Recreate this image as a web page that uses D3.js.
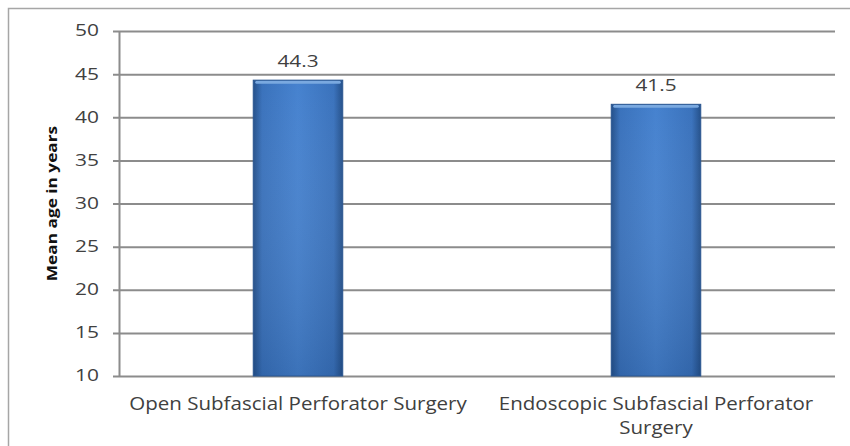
<!DOCTYPE html>
<html>
<head>
<meta charset="utf-8">
<script src="https://cdn.jsdelivr.net/npm/d3@7"></script>
<style>
  html, body { margin: 0; padding: 0; background: #fff; }
  svg { display: block; }
  text { font-family: "Open Sans", "DejaVu Sans", sans-serif; fill: #404040; }
</style>
</head>
<body>
<svg id="chart" width="850" height="446"></svg>
<script>
// Mean age per surgical approach
const categories = [
  ["Open Subfascial Perforator Surgery"],
  ["Endoscopic Subfascial Perforator", "Surgery"]
];
const meanAge = [44.3, 41.5];
const yTicks = [10, 15, 20, 25, 30, 35, 40, 45, 50];
const yTitle = "Mean age in years";

const svg = d3.select("#chart");
const W = 850, H = 446;
const plot = { left: 119, right: 835, top: 31, bottom: 376 };

// outer chart frame
svg.append("rect")
  .attr("x", 8.5).attr("y", 8.5)
  .attr("width", W + 20).attr("height", H + 20)
  .attr("fill", "none").attr("stroke", "#a6a6a6").attr("stroke-width", 1.5);

const x = d3.scaleBand()
  .domain(d3.range(categories.length))
  .range([plot.left, plot.right])
  .paddingInner(0.75)
  .paddingOuter(0.375);

const y = d3.scaleLinear()
  .domain([10, 50])
  .range([plot.bottom, plot.top]);

// gradients for bars
const defs = svg.append("defs");
const g1 = defs.append("linearGradient").attr("id", "barH")
  .attr("x1", "0").attr("x2", "1").attr("y1", "0").attr("y2", "0");
g1.append("stop").attr("offset", "0").attr("stop-color", "#24508a");
g1.append("stop").attr("offset", "0.1").attr("stop-color", "#3a72bc");
g1.append("stop").attr("offset", "0.5").attr("stop-color", "#4682cf");
g1.append("stop").attr("offset", "0.9").attr("stop-color", "#3a72bc");
g1.append("stop").attr("offset", "1").attr("stop-color", "#24508a");
const g2 = defs.append("linearGradient").attr("id", "barV")
  .attr("x1", "0").attr("x2", "0").attr("y1", "0").attr("y2", "1");
g2.append("stop").attr("offset", "0").attr("stop-color", "#ffffff").attr("stop-opacity", 0);
g2.append("stop").attr("offset", "1").attr("stop-color", "#0b2a55").attr("stop-opacity", 0.18);

// horizontal gridlines with small outside ticks
const yAxis = d3.axisLeft(y)
  .tickValues(yTicks)
  .tickSize(-(plot.right - plot.left))
  .tickSizeOuter(0)
  .tickPadding(20)
  .tickFormat(d3.format("d"));

const ga = svg.append("g")
  .attr("transform", `translate(${plot.left},0)`)
  .call(yAxis);
ga.select(".domain").attr("stroke", "#8c8c8c").attr("stroke-width", 2);
ga.selectAll(".tick line")
  .attr("x1", -6)
  .attr("stroke", "#8c8c8c").attr("stroke-width", 2);
ga.selectAll(".tick text")
  .style("font-size", "15.5px")
  .attr("fill", "#404040")
  .attr("transform", function () {
    // widen digits, anchored at their right edge
    const tx = +d3.select(this).attr("x");
    return `translate(${tx},0) scale(1.35,1) translate(${-tx},0)`;
  });

// bars
const bars = svg.append("g");
meanAge.forEach((v, i) => {
  const bx = x(i), bw = x.bandwidth(), by = y(v), bh = y(10) - y(v);
  bars.append("rect")
    .attr("x", bx).attr("y", by).attr("width", bw).attr("height", bh)
    .attr("fill", "url(#barH)");
  bars.append("rect")
    .attr("x", bx).attr("y", by).attr("width", bw).attr("height", bh)
    .attr("fill", "url(#barV)");
  // bevelled top edge
  bars.append("rect")
    .attr("x", bx + 2).attr("y", by + 0.5).attr("width", bw - 4).attr("height", 3)
    .attr("rx", 1.5)
    .attr("fill", "#7aa9e0");
  bars.append("rect")
    .attr("x", bx).attr("y", by).attr("width", bw).attr("height", bh)
    .attr("fill", "none").attr("stroke", "#2a5690").attr("stroke-width", 1);
});

// value labels
svg.append("g").selectAll("text")
  .data(meanAge)
  .join("text")
  .attr("transform", (d, i) =>
    `translate(${x(i) + x.bandwidth() / 2},${y(d) - 13}) scale(1.3,1)`)
  .attr("text-anchor", "middle")
  .style("font-size", "16px")
  .text(d => d3.format(".1f")(d));

// category labels
const cl = svg.append("g").selectAll("text")
  .data(categories)
  .join("text")
  .attr("transform", (d, i) =>
    `translate(${x(i) + x.bandwidth() / 2},410) scale(1.14,1)`)
  .attr("text-anchor", "middle")
  .style("font-size", "18px");
cl.selectAll("tspan")
  .data(d => d)
  .join("tspan")
  .attr("x", 0)
  .attr("dy", (d, j) => j === 0 ? 0 : 24)
  .text(d => d);

// y-axis title
svg.append("text")
  .attr("transform", `translate(57,${(plot.top + plot.bottom) / 2}) rotate(-90) scale(1.15,1)`)
  .attr("text-anchor", "middle")
  .style("font-size", "15px")
  .style("font-weight", "bold")
  .style("fill", "#111")
  .text(yTitle);
</script>
</body>
</html>
